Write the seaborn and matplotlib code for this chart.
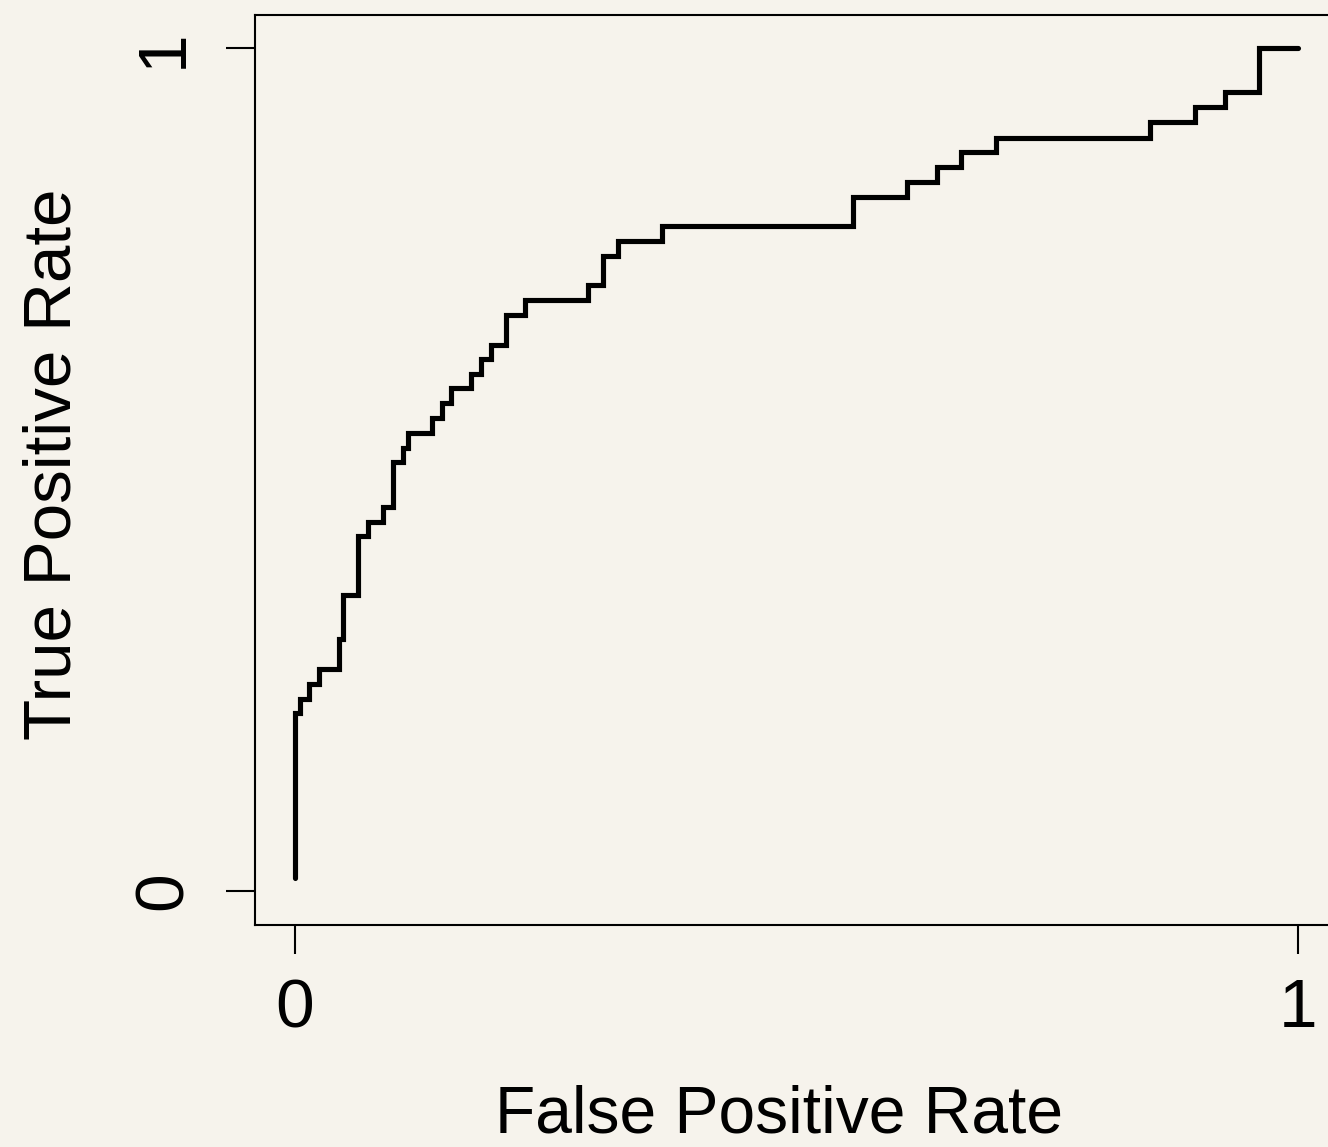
import matplotlib
matplotlib.use("Agg")
import matplotlib.pyplot as plt
import seaborn as sns
import pandas as pd

# ROC curve vertices (False Positive Rate, True Positive Rate)
fpr = [0.000, 0.000, 0.005, 0.014, 0.024, 0.044, 0.048, 0.063, 0.073, 0.088,
       0.098, 0.108, 0.113, 0.137, 0.147, 0.156, 0.176, 0.185, 0.195, 0.210,
       0.229, 0.292, 0.307, 0.322, 0.366, 0.556, 0.610, 0.640, 0.664, 0.699,
       0.853, 0.898, 0.928, 0.961, 1.000]
tpr = [0.015, 0.211, 0.228, 0.246, 0.263, 0.299, 0.351, 0.421, 0.438, 0.456,
       0.509, 0.526, 0.544, 0.561, 0.579, 0.597, 0.613, 0.631, 0.648, 0.683,
       0.701, 0.719, 0.754, 0.771, 0.789, 0.823, 0.841, 0.859, 0.877, 0.894,
       0.912, 0.930, 0.948, 1.000, 1.000]
x_ticks = [0, 1]
y_ticks = [0, 1]
x_tick_labels = ["0", "1"]
y_tick_labels = ["0", "1"]
x_label = "False Positive Rate"
y_label = "True Positive Rate"

bg = "#f6f3ec"
sns.set_style("ticks", rc={"axes.facecolor": bg, "figure.facecolor": bg,
                           "axes.edgecolor": "black", "text.color": "black",
                           "axes.labelcolor": "black", "xtick.color": "black",
                           "ytick.color": "black"})
plt.rcParams["font.family"] = ["Liberation Sans", "DejaVu Sans"]

df = pd.DataFrame({"fpr": fpr, "tpr": tpr})

fig = plt.figure(figsize=(13.28, 11.47), dpi=100)
ax = fig.add_axes([254.9 / 1328, (1147 - 924.7) / 1147, 1082.9 / 1328, 910.1 / 1147])

sns.lineplot(data=df, x="fpr", y="tpr", ax=ax, estimator=None, sort=False,
             drawstyle="steps-post", color="black", linewidth=3.7,
             solid_capstyle="round", solid_joinstyle="miter")

ax.set_xlim(-0.04, 1.04)
ax.set_ylim(-0.04, 1.04)
for s in ax.spines.values():
    s.set_linewidth(1.5)
    s.set_color("black")

ax.set_xticks(x_ticks)
ax.set_yticks(y_ticks)
ax.set_xticklabels(x_tick_labels, fontsize=50, color="black")
ax.set_yticklabels(y_tick_labels, fontsize=50, rotation=90, color="black",
                   rotation_mode="anchor", ha="center", va="baseline")
ax.tick_params(axis="both", direction="out", length=21, width=1.5,
               color="black", labelcolor="black")
ax.tick_params(axis="x", pad=17)
ax.tick_params(axis="y", pad=32)

ax.set_xlabel(x_label, fontsize=47.5, va="baseline", color="black")
ax.xaxis.set_label_coords(0.4844, -0.2278)
ax.set_ylabel(y_label, fontsize=48.5, va="baseline", color="black")
ax.yaxis.set_label_coords(-0.1707, 0.5062)

fig.savefig("out.png", dpi=100, facecolor=bg)
